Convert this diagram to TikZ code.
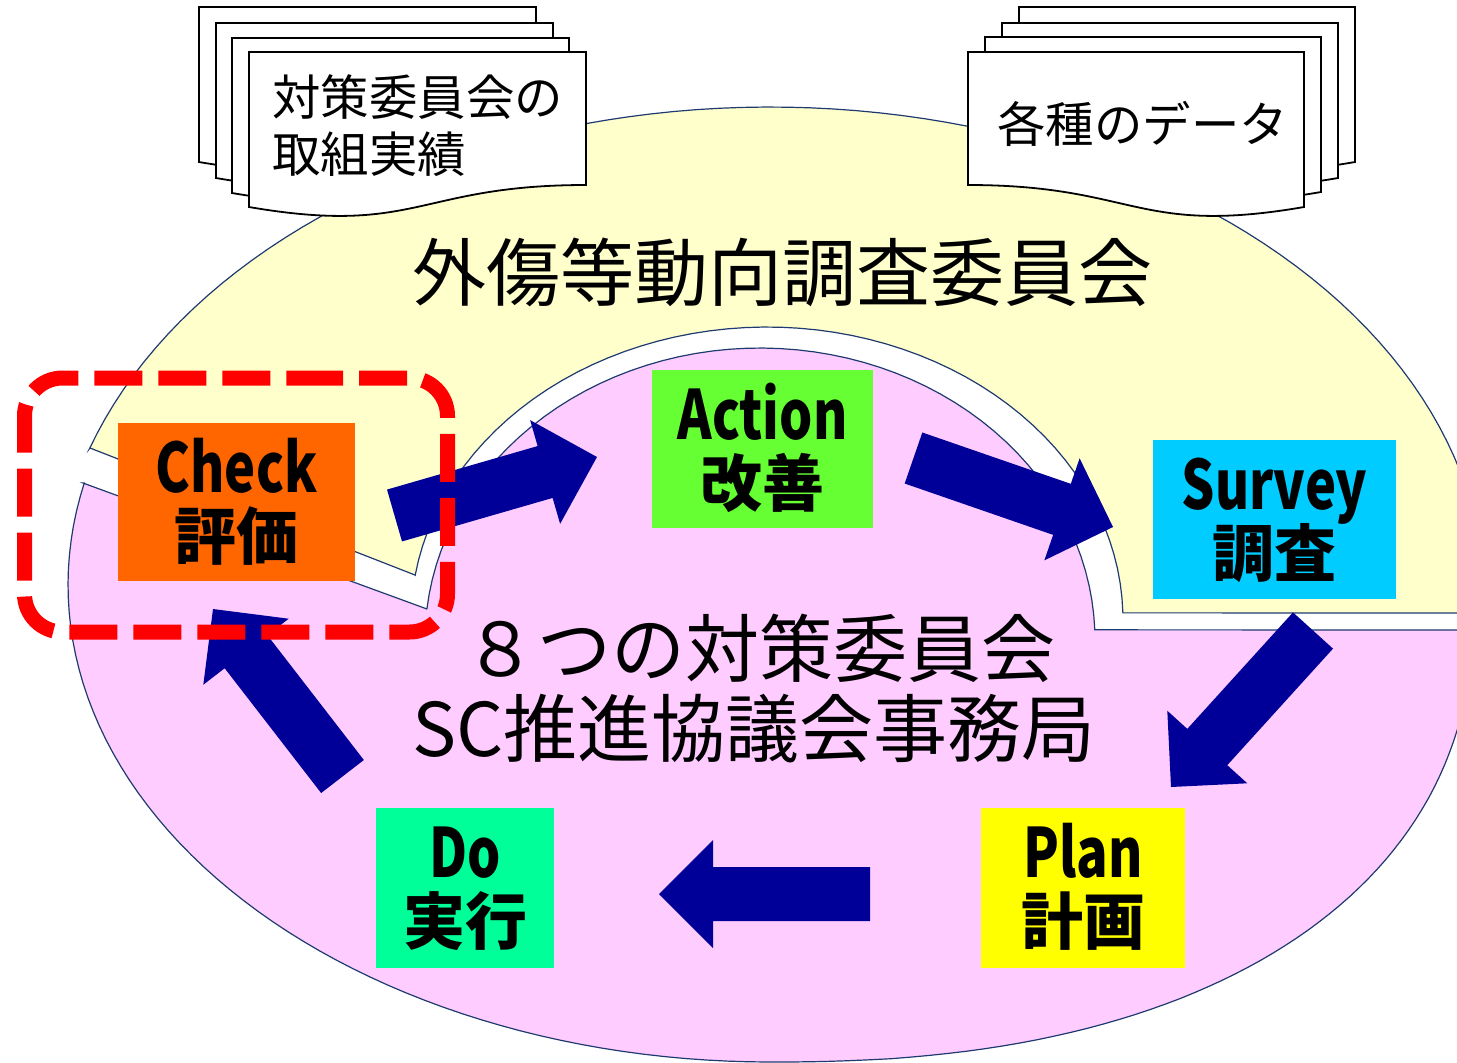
\documentclass[tikz,border=0pt]{standalone}
\usepackage{fontspec}
\usetikzlibrary{calc}
\newfontfamily\jp{Noto Sans CJK JP}
\newfontfamily\jpcond{Noto Sans CJK JP}[FakeStretch=0.77]
\definecolor{ylw}{HTML}{FFFFCC}
\definecolor{pnk}{HTML}{FFCCFF}
\definecolor{edgeblue}{HTML}{1F3A70}
\definecolor{arw}{HTML}{000099}
\definecolor{chkc}{HTML}{FF6600}
\definecolor{actc}{HTML}{66FF33}
\definecolor{srvc}{HTML}{00CCFF}
\definecolor{plnc}{HTML}{FFFF00}
\definecolor{doc}{HTML}{00FF99}
\definecolor{dashred}{HTML}{FF0000}
\newcommand\blockarrow[2]{%
  \coordinate (#1-h) at ($(#2)!27pt!(#1)$);
  \fill[arw]
    ($(#1)!13.5pt!90:(#2)$) --
    ($(#1-h)!13.5pt!90:(#2)$) --
    ($(#1-h)!27pt!90:(#2)$) --
    (#2) --
    ($(#1-h)!27pt!-90:(#2)$) --
    ($(#1-h)!13.5pt!-90:(#2)$) --
    ($(#1)!13.5pt!-90:(#2)$) -- cycle;}
\newcommand\sheetL[2]{%
  \begin{scope}[shift={(#1,#2)}]
  \filldraw[sheet] (0,0) -- (337,0) -- (337,133) .. controls (168.5,133) and (168.5,184) .. (0,155) -- cycle;
  \end{scope}}
\newcommand\sheetR[2]{%
  \begin{scope}[shift={(#1,#2)}]
  \filldraw[sheet] (0,0) -- (336,0) -- (336,155) .. controls (168,184) and (168,133) .. (0,133) -- cycle;
  \end{scope}}
\begin{document}
\begin{tikzpicture}[x=0.5pt,y=-0.5pt,
  region/.style={draw=edgeblue, line width=0.6pt},
  sheet/.style={draw=black, fill=white, line width=0.9pt},
  pdca/.style={draw=none, inner sep=0pt},
  latinlbl/.style={font=\jpcond\bfseries\fontsize{34}{40}\selectfont, inner sep=0pt, anchor=base},
  jplbl/.style={font=\jp\bfseries\fontsize{31}{36}\selectfont, inner sep=0pt, anchor=base},
  titletext/.style={font=\jp\fontsize{37}{42}\selectfont, inner sep=0pt, anchor=base},
  doctext/.style={font=\jp\fontsize{24.2}{28}\selectfont, inner sep=0pt, anchor=base west},
  focus/.style={draw=dashred, line width=7.5pt, dash pattern=on 24pt off 8pt, rounded corners=19pt}]
\useasboundingbox (0,0) rectangle (1457,1062);
\clip (0,0) rectangle (1457,1062);

% yellow region (outer committee)
\filldraw[region, fill=ylw] (90,448) -- (415,575)
  -- plot[domain=188.8:358.6, samples=60, variable=\t] ({767+356*cos(\t)},{620+293*sin(\t)})
  -- (1485,613)
  -- plot[domain=361.5:197.9, samples=90, variable=\t] ({770+715*cos(\t)},{600+493*sin(\t)})
  -- cycle;

% pink region (inner)
\filldraw[region, fill=pnk] (83,483) -- (427,609)
  -- plot[domain=186.1:358, samples=60, variable=\t] ({760+335*cos(\t)},{640+292*sin(\t)})
  -- (1480,630)
  -- plot[domain=3:90, samples=60, variable=\t] ({770+704*pow(cos(\t),0.8696)},{600+462*pow(sin(\t),0.8696)})
  -- plot[domain=90:192.35, samples=60, variable=\t] ({770+702*cos(\t)},{585+477*sin(\t)})
  -- cycle;

% document stacks
\sheetL{199}{7}\sheetL{216}{23}\sheetL{232}{38}\sheetL{249}{52}
\sheetR{1019}{7}\sheetR{1002}{23}\sheetR{985}{37}\sheetR{968}{52}
\node[doctext] (docA1) at (272,115) {対策委員会の};
\node[doctext] (docA2) at (272,172) {取組実績};
\node[doctext] (docB) at (997,142) {各種のデータ};

% titles
\node[titletext] (title) at (782,300) {外傷等動向調査委員会};
\node[titletext] (mid1) at (759.5,676) {８つの対策委員会};
\node[titletext] (mid2) at (754,756) {SC推進協議会事務局};

% arrows
\coordinate (a1s) at (394.5,515.5); \coordinate (a1e) at (597,457);
\coordinate (a2s) at (913.5,458);   \coordinate (a2e) at (1113,527);
\coordinate (a3s) at (1313,630.5);  \coordinate (a3e) at (1171,787);
\coordinate (a4s) at (870,894);     \coordinate (a4e) at (659,894);
\coordinate (a5s) at (342.5,776.5); \coordinate (a5e) at (213,609);
\blockarrow{a1s}{a1e}
\blockarrow{a2s}{a2e}
\blockarrow{a3s}{a3e}
\blockarrow{a4s}{a4e}
\blockarrow{a5s}{a5e}

% PDCA boxes
\node[pdca, fill=chkc, minimum width=118.5pt, minimum height=79pt] (check) at (236.5,502) {};
\node[pdca, fill=actc, minimum width=110.5pt, minimum height=79pt] (action) at (762.5,449) {};
\node[pdca, fill=srvc, minimum width=121.5pt, minimum height=79.5pt] (survey) at (1274.5,519.5) {};
\node[pdca, fill=plnc, minimum width=102pt, minimum height=80pt] (plan) at (1083,888) {};
\node[pdca, fill=doc, minimum width=89pt, minimum height=80pt] (do) at (465,888) {};

\foreach \b/\l/\j in {check/Check/評価, action/Action/改善, survey/Survey/調査, plan/Plan/計画, do/Do/実行}{
  \node[latinlbl] (\b-en) at ([yshift=-35pt]\b.north) {\l};
  \node[jplbl] (\b-ja) at ([yshift=-68.5pt]\b.north) {\j};
}

% focus frame
\draw[focus] (257,378) -- (447.5,378) -- (447.5,632) -- (24.5,632) -- (24.5,378) -- cycle;
\end{tikzpicture}
\end{document}
